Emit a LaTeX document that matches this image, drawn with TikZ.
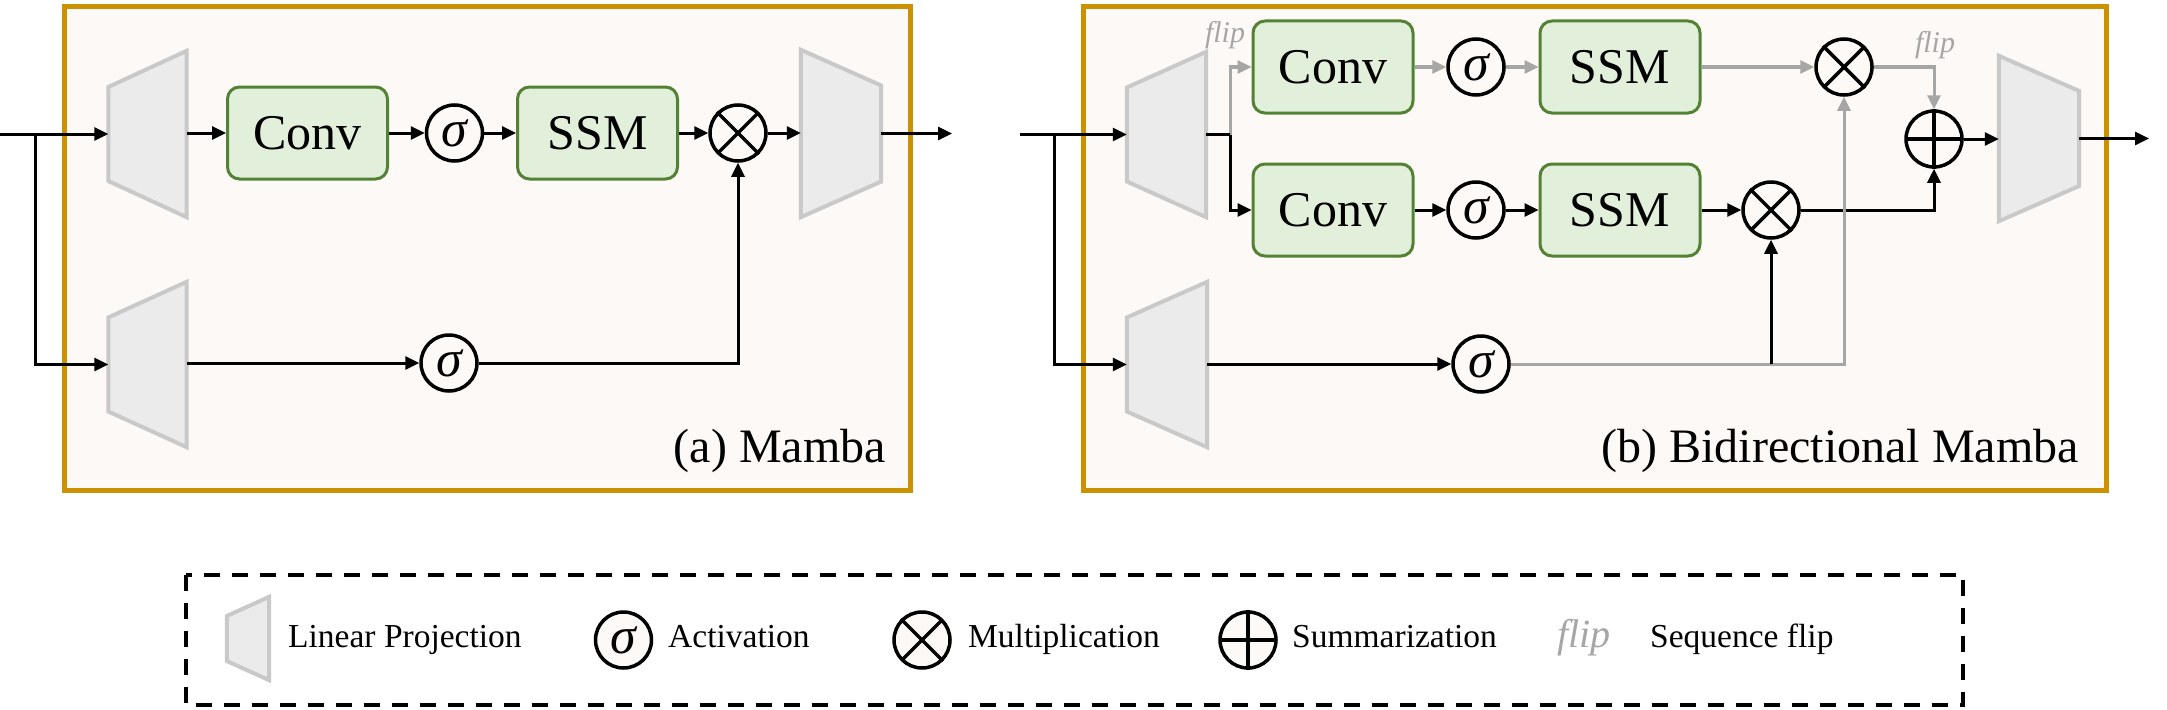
\documentclass[tikz,border=0pt]{standalone}
\usepackage{fontspec}
\setmainfont{Liberation Serif}
\usetikzlibrary{arrows.meta,calc}
\definecolor{frameor}{RGB}{204,145,0}
\definecolor{panelbg}{RGB}{253,249,246}
\definecolor{boxfill}{RGB}{226,239,218}
\definecolor{boxline}{RGB}{84,130,53}
\definecolor{trapfill}{RGB}{235,235,235}
\definecolor{trapline}{RGB}{201,201,201}
\definecolor{flipgray}{RGB}{166,166,166}
\newcommand{\projExpand}[2]{\filldraw[fill=trapfill, draw=trapline, line width=4pt, line join=miter]
  ([yshift=#2]#1.west) -- (#1.north east) -- (#1.south east) -- ([yshift=-#2]#1.west) -- cycle;}
\newcommand{\projShrink}[2]{\filldraw[fill=trapfill, draw=trapline, line width=4pt, line join=miter]
  (#1.north west) -- ([yshift=#2]#1.east) -- ([yshift=-#2]#1.east) -- (#1.south west) -- cycle;}
\newcommand{\mulmark}[1]{\draw[line width=3.5pt, shorten <=1.5pt, shorten >=1.5pt] (#1.north west) -- (#1.south east) (#1.north east) -- (#1.south west);}
\newcommand{\plusmark}[1]{\draw[line width=3.5pt, shorten <=1.5pt, shorten >=1.5pt] (#1.north) -- (#1.south) (#1.west) -- (#1.east);}
\begin{document}
\begin{tikzpicture}[x=1pt,y=-1pt,
 panel/.style={draw=frameor, line width=5pt, fill=panelbg},
 blk/.style={draw=boxline, fill=boxfill, line width=3pt, rounded corners=12pt, minimum width=160pt, minimum height=92pt, inner sep=0pt, font=\fontsize{50}{50}\selectfont},
 opnode/.style={circle, draw, line width=3.5pt, fill=panelbg, minimum size=56pt, inner sep=0pt},
 sig/.style={opnode, font=\fontsize{52}{52}\selectfont\itshape},
 proj/.style={minimum width=78pt, minimum height=166pt, inner sep=0pt},
 conn/.style={line width=3pt, -{Triangle[length=14pt,width=13pt]}},
 gconn/.style={conn, draw=flipgray, color=flipgray},
 wire/.style={line width=3pt},
 fliptext/.style={text=flipgray, inner sep=0pt, font=\fontsize{30}{30}\selectfont\itshape},
 paneltitle/.style={font=\fontsize{48}{48}\selectfont, anchor=base east, inner sep=0pt},
 legtext/.style={font=\fontsize{33.5}{34}\selectfont, anchor=base west, inner sep=0pt},
]
\useasboundingbox (0,0) rectangle (2167,709);

% panels
\draw[panel] (64,7) rectangle (910,490);
\draw[panel] (1083,7) rectangle (2106,490);

% ---------------- (a) Mamba ----------------
\node[proj] (a1) at (147.5,134) {};
\node[proj, minimum height=165pt] (a2) at (147.5,364.5) {};
\node[proj, minimum width=80pt, minimum height=167pt] (aout) at (841,133.5) {};
\projExpand{a1}{47pt}
\projExpand{a2}{47pt}
\projShrink{aout}{48pt}
\node[blk] (aconv) at (307.5,133) {Conv};
\node[sig] (asig1) at (454.5,133) {σ};
\node[blk] (assm) at (597.5,133) {SSM};
\node[opnode] (amul) at (738,133) {};
\mulmark{amul}
\node[sig] (asig2) at (449,363) {σ};
\coordinate (ain) at (0,134);
\coordinate (abr) at (35,134);
\coordinate (aend) at (952,133.5);
\draw[conn] (ain) -- (a1.west);
\draw[conn] (abr) |- (a2.west);
\draw[conn] (a1.east |- aconv.west) -- (aconv.west);
\draw[conn] (aconv) -- (asig1);
\draw[conn] (asig1) -- (assm);
\draw[conn] (assm) -- (amul);
\draw[conn] (amul) -- (aout.west |- amul);
\draw[conn] (aout.east) -- (aend);
\draw[conn] (a2.east |- asig2) -- (asig2);
\draw[conn] (asig2) -| (amul);
\node[paneltitle] (ta) at (886,462) {(a) Mamba};

% ---------------- (b) Bidirectional Mamba ----------------
\node[proj, minimum width=79pt, minimum height=165pt] (b1) at (1166.5,134.5) {};
\node[proj, minimum width=80pt, minimum height=165pt] (b2) at (1167,364.5) {};
\node[proj, minimum width=80pt, minimum height=165pt] (bout) at (2039,138.5) {};
\projExpand{b1}{47pt}
\projExpand{b2}{47pt}
\projShrink{bout}{47.5pt}
\node[blk] (bconv1) at (1333,67) {Conv};
\node[sig] (bsig1) at (1476,67) {σ};
\node[blk] (bssm1) at (1620,67) {SSM};
\node[opnode] (bmul1) at (1844,67) {};
\mulmark{bmul1}
\node[blk] (bconv2) at (1333,210) {Conv};
\node[sig] (bsig2) at (1476,210) {σ};
\node[blk] (bssm2) at (1620,210) {SSM};
\node[opnode] (bmul2) at (1771,210) {};
\mulmark{bmul2}
\node[opnode] (bplus) at (1934,139) {};
\plusmark{bplus}
\node[sig] (bsig3) at (1481,364) {σ};
\coordinate (bin) at (1020,134.5);
\coordinate (bbr) at (1054,134.5);
\coordinate (bsplit) at (1230,134.5);
\coordinate (bend) at (2149,138.5);
\coordinate (bjoin) at (bmul2 |- bsig3);

\draw[conn] (bin) -- (b1.west);
\draw[conn] (bbr) |- (b2.west);
\draw[gconn] (bsplit) |- (bconv1.west);
\draw[conn] (bsplit) |- (bconv2.west);
\draw[wire] (b1.east) -- (bsplit);
\draw[gconn] (bconv1) -- (bsig1);
\draw[gconn] (bsig1) -- (bssm1);
\draw[gconn] (bssm1) -- (bmul1);
\draw[gconn] (bmul1) -| (bplus);
\draw[conn] (bconv2) -- (bsig2);
\draw[conn] (bsig2) -- (bssm2);
\draw[conn] (bssm2) -- (bmul2);
\draw[conn] (bmul2) -| (bplus);
\draw[conn] (bplus) -- (bout.west |- bplus);
\draw[conn] (bout.east) -- (bend);
\draw[conn] (b2.east |- bsig3) -- (bsig3);
\draw[gconn] (bsig3) -| (bmul1);
\draw[conn] (bjoin) -- (bmul2);
\node[fliptext] (flip1) at (1225,35) {flip};
\node[fliptext] (flip2) at (1935,45) {flip};
\node[paneltitle] (tb) at (2079,462) {(b) Bidirectional Mamba};

% ---------------- legend ----------------
\draw[line width=4pt, dash pattern=on 16pt off 12pt] (186,575) rectangle (1963,705);
\node[proj, minimum width=42pt, minimum height=83pt] (lproj) at (248,638.5) {};
\projExpand{lproj}{22.5pt}
\node[legtext] (lt1) at (288,647) {Linear Projection};
\node[sig] (lsig) at (623.5,640) {σ};
\node[legtext] (lt2) at (668,647) {Activation};
\node[opnode] (lmul) at (922,640) {};
\mulmark{lmul}
\node[legtext] (lt3) at (968,647) {Multiplication};
\node[opnode] (lplus) at (1248,640) {};
\plusmark{lplus}
\node[legtext] (lt4) at (1292,647) {Summarization};
\node[legtext, text=flipgray, font=\fontsize{40}{40}\selectfont\itshape] (lt5) at (1557,647) {flip};
\node[legtext] (lt6) at (1650,647) {Sequence flip};
\end{tikzpicture}
\end{document}
